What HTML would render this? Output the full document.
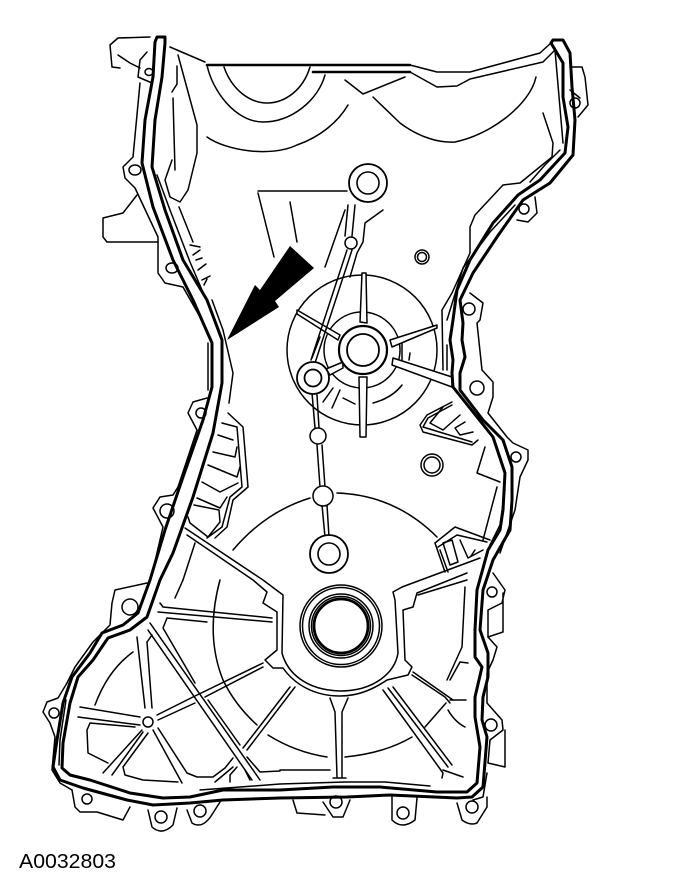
<!DOCTYPE html>
<html><head><meta charset="utf-8"><style>
html,body{margin:0;padding:0;background:#fff;width:688px;height:886px;overflow:hidden}
svg{display:block}
.t polyline,.t path,.t circle,.t ellipse,.t polygon{fill:none;stroke:#000;stroke-width:1.5;stroke-linejoin:round;stroke-linecap:round}
.t .w{fill:#fff}
.g{fill:none;stroke:#000;stroke-width:3;stroke-linejoin:round;stroke-linecap:round}
</style></head><body>
<svg width="688" height="886" viewBox="0 0 688 886" xmlns="http://www.w3.org/2000/svg">
<g class="t">
<!-- centre big circles -->
<circle cx="362" cy="350" r="75"/>
<circle cx="362" cy="350" r="38"/>
<path d="M373,403 Q392,398 402,385"/>
<path d="M207,65 L390,65 L410,65 L437,72 L470,72 L540,53 L552,42"/>
<path d="M207,65 L410,65" style="stroke-width:2.6"/>
<path d="M313,72 L410,72" style="stroke-width:2.6"/>
<polyline points="410,72 437,87 457,86 470,79 543,62 555,50"/>
<polyline points="170,47 205,62"/>
<path d="M224,67 C232,90 250,103 267,103 C285,103 303,90 310,67"/>
<path d="M207,65 C212,90 235,122 263,122 C292,122 318,100 325,75"/>
<path d="M207,137 C225,150 270,158 297,145 C320,137 338,122 348,105"/>
<path d="M178,55 L197,125 L197,153 L188,190 L180,202 L170,197 L165,180 L172,160"/>
<polyline points="173,98 175,170"/>
<polyline points="177,66 177,84 172,92"/>
<polyline points="179,207 193,242"/>
<path d="M345,80 L363,94 L405,77"/>
<path d="M373,97 L400,123 C420,138 440,143 455,142 C490,135 530,105 536,77"/>
<path d="M543,113 L553,143 L552,157 L520,183 L503,185 L475,215 L470,227 L470,253 L452,293 L442,310 L443,370"/>
<polyline points="555,50 563,143"/>
<!-- thin lines beside the gasket -->
<polyline points="157,175 170,210 190,262 214,318"/>
<polyline points="208,343 208,390"/>
<polyline points="447,320 463,268 490,232 515,205"/>
<polyline points="447,345 447,370"/>
<polyline points="505,490 500,525 490,545"/>
<polyline points="560,150 545,165 530,182"/>
<polyline points="66,700 60,740 59,765"/>
<polyline points="200,790 280,784 345,782 385,782 430,786"/>
<!-- left flanges -->
<polyline points="150,37 118,38 110,45 112,67 120,68"/>
<polyline points="118,55 130,63 140,68"/>
<polyline points="147,52 140,60 138,77 152,83"/>
<ellipse cx="149" cy="72" rx="4" ry="3.5"/>
<polyline points="140,83 133,157 123,167 125,178 135,188 158,237 158,273 165,283 183,287 200,317"/>
<ellipse cx="135" cy="170" rx="6" ry="5"/>
<polyline points="137,195 123,213 103,218 103,237 107,242 158,242"/>
<ellipse cx="172" cy="268" rx="6" ry="5"/>
<!-- ribs near upper-left -->
<path d="M190,245 L200,247 M193,255 L200,250 M196,260 L202,258 M198,270 L206,264 M202,280 L210,276 M204,285 L207,279"/>
<!-- right flanges -->
<polyline points="572,67 582,67 585,77 588,105 578,117"/>
<polyline points="570,90 580,98"/>
<circle cx="575" cy="103" r="5"/>
<polyline points="535,197 537,213 528,222 517,220"/>
<circle cx="524" cy="209" r="5"/>
<circle cx="422" cy="257" r="7"/><circle cx="422" cy="257" r="4.5"/>
<polyline points="470,293 483,303 480,320 477,323 482,370 493,382 493,397 488,413 507,437 513,443 528,450 528,460 520,477 515,510 500,553"/>
<circle cx="469" cy="309" r="6"/>
<circle cx="477" cy="388" r="7"/>
<circle cx="516" cy="457" r="5"/>
<polyline points="493,573 505,590 502,603 488,610 488,637 503,632 503,593"/>
<circle cx="492" cy="592" r="5"/>
<polyline points="488,637 497,647 493,660 487,673 487,703 502,720 503,730 490,740 488,763 505,767 505,730"/>
<circle cx="491" cy="725" r="6"/>
<polyline points="487,773 483,797 473,800"/>
<!-- bottom bosses -->
<path d="M457,803 L462,820 Q470,826 477,823 L487,807 L487,797"/><circle cx="472" cy="807" r="6"/>
<path d="M392,797 L392,820 Q402,830 415,820 L417,798"/><circle cx="403" cy="813" r="6"/>
<path d="M323,802 L333,817 L343,817 L350,800"/><circle cx="336" cy="802" r="6"/>
<polyline points="293,800 297,813 325,815"/>
<path d="M148,810 L152,827 Q162,836 173,825 L177,808"/><circle cx="161" cy="817" r="6"/>
<path d="M187,810 L192,823 Q203,830 213,813 L220,802"/><circle cx="200" cy="811" r="6"/>
<polyline points="72,790 75,807 80,812 97,812 123,820 130,807"/><circle cx="87" cy="799" r="5"/>
<polyline points="67,683 58,698 47,702 43,712 50,723 55,737 52,770 60,783 72,790"/><circle cx="54" cy="713" r="5"/>
<polyline points="67,683 75,667 93,642 110,625 112,603 115,590 147,583"/>
<circle cx="130" cy="607" r="8"/>
<polyline points="207,398 193,402 188,413 197,430 178,487 173,495 160,497 153,508 163,527 153,570"/>
<ellipse cx="201" cy="413" rx="5" ry="5"/>
<circle cx="167" cy="511" r="7"/>
<!-- inner left pocket -->
<polyline points="212,300 223,330 233,373 229,403"/>
<polyline points="228,413 243,427 248,487 233,500 227,527 215,538"/>
<polyline points="222,423 237,427 242,487 230,497 222,527 207,538"/>
<polyline points="218,435 233,440"/>
<polyline points="213,452 235,457 237,447"/>
<polyline points="208,465 237,477 240,467"/>
<polyline points="202,482 220,492 238,483"/>
<polyline points="197,498 220,508 227,497"/>
<polyline points="194,505 219,510 220,522 208,537 190,523 188,517"/>
<!-- big diag rib to seal -->
<path d="M185,528 L263,580 L283,595 L282,653 C287,672 305,690 340,691 C375,691 395,672 398,653 L395,600 L393,592 L402,587 L480,558"/>
<path d="M187,535 L253,580 L267,592 L263,603 L277,612 L277,650 L265,660 L273,668 L283,668 C295,685 315,696 340,696 C360,696 375,688 387,680 L408,675 L412,667 L405,660 L403,610 L413,607 L417,593 L467,573"/>
<polyline points="418,595 467,580"/>
<!-- big arc -->
<path d="M233,550 Q265,512 310,498"/>
<path d="M337,493 Q395,495 437,537"/>
<path d="M195,543 L183,580"/>
<path d="M220,580 Q205,635 223,680 Q235,705 257,725"/>
<path d="M268,735 Q295,752 327,757"/>
<path d="M345,757 Q385,753 412,737"/>
<polyline points="425,727 446,703"/>
<polyline points="175,598 183,580"/>
<polyline points="280,770 330,770"/>
<!-- spokes lower -->
<path d="M330,698 L335,712 L337,777 M348,698 L342,712 L342,778 M333,778 L346,778"/>
<polyline points="383,690 443,773 442,778"/>
<polyline points="388,688 448,767"/>
<polyline points="393,687 452,765"/>
<polyline points="413,672 453,700"/>
<polyline points="412,675 445,697 450,703"/>
<polyline points="465,587 462,647 447,680"/>
<polyline points="468,663 460,662 450,680"/>
<polyline points="450,700 466,700"/>
<path d="M448,710 Q455,722 465,727"/>
<polyline points="443,770 463,777"/>
<!-- hub bottom-left -->
<circle cx="148" cy="722" r="5"/>
<polyline points="80,707 140,717"/><polyline points="78,717 140,725"/>
<polyline points="137,637 145,708"/><polyline points="147,642 152,708"/>
<polyline points="147,642 152,635"/>
<polyline points="157,715 193,697 263,663"/>
<polyline points="158,720 195,703"/>
<polyline points="205,697 263,667"/>
<polyline points="150,623 260,780"/><polyline points="148,630 252,780"/>
<polyline points="207,622 167,618 163,628 195,683"/>
<polyline points="160,603 163,607 272,618"/>
<polyline points="158,612 272,622"/>
<polyline points="142,730 103,773"/>
<polyline points="143,732 112,775"/>
<polyline points="148,733 123,767 125,775 143,780 178,782"/>
<polyline points="153,730 182,783"/>
<polyline points="158,728 187,773 197,777 213,777 225,768 233,758"/>
<polyline points="135,727 90,723 87,730 88,753 108,763"/>
<path d="M133,652 Q108,670 95,705"/>
<polyline points="208,700 240,745"/>
<polyline points="247,750 295,687"/><polyline points="243,748 290,687"/>
<polyline points="247,757 260,772 280,771"/>
<polyline points="215,782 233,767"/>
<polyline points="230,782 230,775 237,767"/>
<polyline points="250,780 245,770"/>
<!-- upper-right pocket -->
<polyline points="435,543 455,527 490,540"/>
<polyline points="438,547 457,535 487,542"/>
<polyline points="435,543 445,572"/>
<polyline points="440,550 448,572"/>
<polygon points="452,540 458,562 450,565 443,543"/>
<polyline points="460,540 468,558 483,550"/>
<polyline points="471,556 475,550"/>
<polyline points="485,447 477,473 500,482"/>
<polyline points="497,487 483,540"/>
<!-- pocket 2 -->
<polyline points="452,402 427,415 420,425 423,432 472,445 478,440"/>
<polyline points="452,405 428,418 423,427 472,442"/>
<polyline points="460,415 443,430 430,423 443,407"/>
<polyline points="465,422 455,428 460,435 473,432"/>
<ellipse cx="432" cy="465" rx="11" ry="11"/><ellipse cx="432" cy="465" rx="8" ry="8"/>
<!-- lines upper centre -->
<polyline points="258,191 347,191"/>
<polyline points="258,193 274,257"/>
<polyline points="290,202 297,242"/>
<polyline points="345,210 325,267"/>
<polyline points="383,210 365,223 363,242 357,253 350,277"/>
<!-- spokes -->
<polygon class="w" points="360,322 362,273 366,273 367,323"/>
<polygon class="w" points="359,377 360,437 366,437 367,377"/>
<polygon class="w" points="297,310 340,335 338,340 297,314"/>
<polygon class="w" points="390,340 437,325 437,328 392,347"/>
<polygon class="w" points="393,358 452,377 452,387 392,365"/>
<polygon class="w" points="326,369 343,362 343,368 330,375"/>
<!-- chain -->
<polyline points="352,250 315,363"/><polyline points="347,250 311,360"/>
<polyline points="355,205 352,236"/><polyline points="348,205 345,236"/>
<polyline points="312,393 315,428"/><polyline points="317,395 319,428"/>
<polyline points="317,445 320,487"/><polyline points="322,445 325,487"/>
<polyline points="322,505 325,537"/><polyline points="327,505 329,537"/>
<circle class="w" cx="351" cy="243" r="6"/>
<circle class="w" cx="318" cy="436" r="8"/>
<circle class="w" cx="323" cy="496" r="10"/>
<!-- hubs -->
<circle class="w" cx="363" cy="350" r="24" style="stroke-width:2.2"/><circle cx="363" cy="350" r="16" style="stroke-width:1.8"/>
<circle class="w" cx="313" cy="378" r="16" style="stroke-width:1.8"/><circle cx="313" cy="378" r="8.5" style="stroke-width:1.8"/>
<circle class="w" cx="368" cy="183" r="19" style="stroke-width:1.8"/><circle cx="368" cy="183" r="11" style="stroke-width:1.6"/>
<circle class="w" cx="329" cy="554" r="19" style="stroke-width:1.8"/><circle cx="329" cy="554" r="11" style="stroke-width:1.6"/>
<polyline points="320,337 312,358"/>
<polyline points="333,388 323,402"/><polyline points="340,390 332,408"/><polyline points="343,398 355,404"/>
<polyline points="402,343 402,360"/><polyline points="410,353 409,360"/>
<!-- seal -->
<circle cx="341" cy="626" r="41"/><circle cx="341" cy="626" r="38.5"/>
<circle cx="341" cy="626" r="32"/><circle cx="341" cy="626" r="29.5"/>
<circle cx="341" cy="626" r="27" style="stroke-width:2.8"/>
</g>
<!-- gasket -->
<polygon class="g" points="157,37 155,42 153,77 145,120 142,163 153,207 173,260 193,300 212,343 212,387 203,420 183,477 165,530 150,580 138,613 123,625 102,633 90,653 72,677 63,703 57,740 53,767 60,780 83,788 127,800 153,805 190,803 223,800 280,798 347,797 390,795 457,798 472,797 483,787 487,737 482,720 483,697 488,677 488,653 480,630 483,590 493,560 510,530 512,500 512,467 503,440 483,420 460,390 460,373 465,357 462,340 463,323 460,300 473,273 497,237 523,200 550,183 573,155 575,120 572,87 570,53 563,40 553,40 551,43 563,63 563,97 568,127 565,153 540,180 518,195 493,223 470,260 457,290 453,320 450,340 453,360 452,373 453,387 493,437 505,473 503,510 500,530 488,550 477,590 475,630 475,657 482,667 475,697 475,717 480,747 477,783 467,792 437,792 380,787 333,787 280,790 223,790 190,797 163,798 130,793 90,780 70,775 62,768 63,743 70,703 78,677 93,660 108,638 130,630 147,617 160,580 173,553 193,497 213,433 222,383 222,340 207,300 183,260 165,210 152,167 155,120 162,77 165,43 165,37"/>
<polygon fill="#000" points="290,246 314,268 275,301 279,307 227,340 255,285 260,290"/>
<text x="19" y="868" font-family="'Liberation Sans',sans-serif" font-size="20.5" textLength="97" lengthAdjust="spacingAndGlyphs" fill="#000">A0032803</text>
</svg>
</body></html>
